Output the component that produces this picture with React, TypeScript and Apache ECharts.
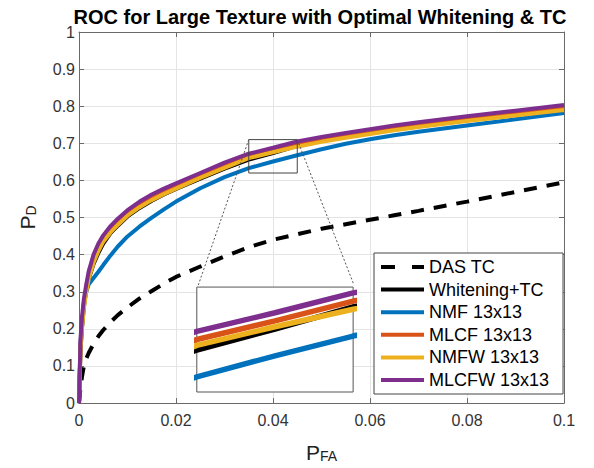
import React, { useEffect, useRef } from "react";
import * as echarts from "echarts";

// ---- data ----
const PFA = [0, 0.0003, 0.0006, 0.001, 0.0015, 0.002, 0.003, 0.004, 0.005, 0.0065, 0.008, 0.01, 0.0125, 0.015, 0.0175, 0.02, 0.025, 0.03, 0.035, 0.04, 0.045, 0.05, 0.055, 0.06, 0.065, 0.07, 0.08, 0.09, 0.1];
const DAS_TC = [0, 0.04, 0.07, 0.1, 0.12, 0.135, 0.16, 0.18, 0.197, 0.218, 0.237, 0.258, 0.282, 0.302, 0.322, 0.34, 0.368, 0.395, 0.42, 0.44, 0.455, 0.47, 0.482, 0.494, 0.506, 0.518, 0.543, 0.569, 0.595];
const WHITENING_TC = [0, 0.14, 0.2, 0.26, 0.305, 0.335, 0.375, 0.405, 0.43, 0.458, 0.478, 0.503, 0.526, 0.545, 0.562, 0.577, 0.605, 0.632, 0.656, 0.674, 0.693, 0.706, 0.717, 0.727, 0.737, 0.746, 0.762, 0.777, 0.792];
const NMF = [0, 0.16, 0.21, 0.27, 0.3, 0.32, 0.337, 0.354, 0.372, 0.398, 0.422, 0.449, 0.476, 0.5, 0.522, 0.543, 0.579, 0.609, 0.633, 0.651, 0.668, 0.684, 0.699, 0.711, 0.722, 0.731, 0.748, 0.765, 0.782];
const MLCF = [0, 0.15, 0.21, 0.265, 0.31, 0.345, 0.39, 0.42, 0.443, 0.47, 0.49, 0.515, 0.537, 0.556, 0.572, 0.586, 0.614, 0.641, 0.665, 0.681, 0.698, 0.711, 0.722, 0.732, 0.742, 0.751, 0.767, 0.783, 0.798];
const NMFW = [0, 0.14, 0.2, 0.255, 0.3, 0.335, 0.378, 0.41, 0.435, 0.46, 0.48, 0.505, 0.528, 0.547, 0.563, 0.578, 0.607, 0.634, 0.66, 0.676, 0.691, 0.704, 0.715, 0.725, 0.735, 0.744, 0.76, 0.775, 0.79];
const MLCFW = [0, 0.17, 0.23, 0.28, 0.32, 0.355, 0.4, 0.43, 0.452, 0.477, 0.497, 0.52, 0.543, 0.562, 0.578, 0.592, 0.62, 0.648, 0.672, 0.688, 0.705, 0.717, 0.728, 0.738, 0.748, 0.757, 0.773, 0.788, 0.803];

const SERIES_NAMES = ["DAS TC", "Whitening+TC", "NMF 13x13", "MLCF 13x13", "NMFW 13x13", "MLCFW 13x13"];
const CURVES = [DAS_TC, WHITENING_TC, NMF, MLCF, NMFW, MLCFW];
const COLORS = ["#000000", "#000000", "#0072BD", "#D95319", "#EDB120", "#7E2F8E"];

const TITLE = "ROC for Large Texture with Optimal Whitening & TC";
const X_RANGE = [0, 0.1];
const X_STEP = 0.02;
const Y_RANGE = [0, 1];
const Y_STEP = 0.1;

// zoom window (data units) and where the inset sits (in main-axes data units)
const ZOOM_PFA = [0.035, 0.045];
const ZOOM_PD = [0.62, 0.71];
const INSET_PFA = [0.0246, 0.0567];
const INSET_PD = [0.0374, 0.318];

const FONT = "'Liberation Sans', Arial, Helvetica, sans-serif";
const MAIN = { left: 77, top: 32, width: 487, height: 374 };

function xPx(v: number) {
  return MAIN.left + ((v - X_RANGE[0]) / (X_RANGE[1] - X_RANGE[0])) * MAIN.width;
}
function yPx(v: number) {
  return MAIN.top + MAIN.height - ((v - Y_RANGE[0]) / (Y_RANGE[1] - Y_RANGE[0])) * MAIN.height;
}

function buildOption() {
  const pts = (ys: number[]) => PFA.map((x, i) => [x, ys[i]]);
  const insetLeft = xPx(INSET_PFA[0]);
  const insetRight = xPx(INSET_PFA[1]);
  const insetTop = yPx(INSET_PD[1]);
  const insetBottom = yPx(INSET_PD[0]);

  const axisLineStyle = { color: "#6a6a6a", width: 1 };
  const labelStyle = { color: "#333", fontSize: 16, fontFamily: FONT };
  const nameRich = {
    p: { fontSize: 21, lineHeight: 21, verticalAlign: "top", color: "#222", fontFamily: FONT },
    s: { fontSize: 14, lineHeight: 14, verticalAlign: "bottom", padding: [16, 0, 0, 0], color: "#222", fontFamily: FONT },
  };

  const mainSeries = SERIES_NAMES.map((name, i) => ({
    type: "line",
    name,
    xAxisIndex: 0,
    yAxisIndex: 0,
    data: pts(CURVES[i]),
    symbol: "none",
    showSymbol: false,
    clip: false,
    silent: true,
    lineStyle: { color: COLORS[i], width: 4, type: i === 0 ? [13, 10] : "solid", cap: "butt" },
    itemStyle: { color: COLORS[i] },
  }));

  const insetSeries = SERIES_NAMES.slice(1).map((name, k) => {
    const i = k + 1;
    return {
      type: "line",
      name: name + " (zoom)",
      xAxisIndex: 2,
      yAxisIndex: 2,
      data: pts(CURVES[i]),
      symbol: "none",
      showSymbol: false,
      clip: true,
      silent: true,
      lineStyle: { color: COLORS[i], width: 5.5 },
      itemStyle: { color: COLORS[i] },
    };
  });

  const zoomBox = {
    type: "line",
    name: "zoom box",
    xAxisIndex: 0,
    yAxisIndex: 0,
    data: [
      [ZOOM_PFA[0], ZOOM_PD[0]],
      [ZOOM_PFA[1], ZOOM_PD[0]],
      [ZOOM_PFA[1], ZOOM_PD[1]],
      [ZOOM_PFA[0], ZOOM_PD[1]],
      [ZOOM_PFA[0], ZOOM_PD[0]],
    ],
    symbol: "none",
    clip: false,
    silent: true,
    lineStyle: { color: "#444", width: 1 },
  };
  const connectors = [0, 1].map((j) => ({
    type: "line",
    name: "connector" + j,
    xAxisIndex: 0,
    yAxisIndex: 0,
    data: [
      [ZOOM_PFA[j], ZOOM_PD[1]],
      [INSET_PFA[j], INSET_PD[1]],
    ],
    symbol: "none",
    clip: false,
    silent: true,
    lineStyle: { color: "#555", width: 1, type: [2, 2] },
  }));

  return {
    animation: false,
    backgroundColor: "#ffffff",
    textStyle: { fontFamily: FONT },
    title: {
      text: TITLE,
      left: 320,
      top: 7,
      padding: 0,
      textAlign: "center",
      textStyle: { fontSize: 20, fontWeight: "bold", color: "#000", fontFamily: FONT },
    },
    legend: {
      data: SERIES_NAMES.map((name, i) => ({
        name,
        itemStyle: { opacity: 0, color: "rgba(0,0,0,0)", borderWidth: 0 },
        lineStyle: { color: COLORS[i], width: 4, type: i === 0 ? [14, 17] : "solid", cap: "butt" },
      })),
      orient: "vertical",
      left: 374,
      top: 253,
      padding: [5, 14, 5, 5],
      itemWidth: 43,
      itemHeight: 12,
      itemGap: 4.6,
      selectedMode: false,
      backgroundColor: "#ffffff",
      borderColor: "#444",
      borderWidth: 1,
      borderRadius: 0,
      itemStyle: { opacity: 0, color: "rgba(0,0,0,0)", borderWidth: 0 },
      textStyle: { fontSize: 18, lineHeight: 18, color: "#000", fontFamily: FONT },
    },
    grid: [
      { left: MAIN.left, top: MAIN.top, width: MAIN.width, height: MAIN.height, containLabel: false },
      {
        left: insetLeft,
        top: insetTop,
        width: insetRight - insetLeft,
        height: insetBottom - insetTop,
        show: true,
        z: 1,
        backgroundColor: "#ffffff",
        borderColor: "#555",
        borderWidth: 1,
      },
    ],
    xAxis: [
      {
        type: "value",
        gridIndex: 0,
        min: X_RANGE[0],
        max: X_RANGE[1],
        interval: X_STEP,
        name: "{p|P}{s|FA}",
        nameLocation: "middle",
        nameGap: 29,
        nameTextStyle: { rich: nameRich },
        axisLine: { show: true, onZero: false, lineStyle: axisLineStyle },
        axisTick: { show: true, inside: true, length: 5, lineStyle: axisLineStyle },
        axisLabel: { ...labelStyle, margin: 9 },
        splitLine: { show: true, lineStyle: { color: "#e4e4e4", width: 1 } },
      },
      {
        type: "value",
        gridIndex: 0,
        position: "top",
        min: X_RANGE[0],
        max: X_RANGE[1],
        interval: X_STEP,
        axisLine: { show: true, onZero: false, lineStyle: axisLineStyle },
        axisTick: { show: true, inside: true, length: 5, lineStyle: axisLineStyle },
        axisLabel: { show: false },
        splitLine: { show: false },
      },
      {
        type: "value",
        gridIndex: 1,
        min: ZOOM_PFA[0],
        max: ZOOM_PFA[1],
        show: false,
      },
    ],
    yAxis: [
      {
        type: "value",
        gridIndex: 0,
        min: Y_RANGE[0],
        max: Y_RANGE[1],
        interval: Y_STEP,
        name: "{p|P}{s|D}",
        nameLocation: "middle",
        nameRotate: 90,
        nameGap: 41,
        nameTextStyle: { rich: nameRich },
        axisLine: { show: true, onZero: false, lineStyle: axisLineStyle },
        axisTick: { show: true, inside: true, length: 5, lineStyle: axisLineStyle },
        axisLabel: { ...labelStyle, margin: 4 },
        splitLine: { show: true, lineStyle: { color: "#e4e4e4", width: 1 } },
      },
      {
        type: "value",
        gridIndex: 0,
        position: "right",
        min: Y_RANGE[0],
        max: Y_RANGE[1],
        interval: Y_STEP,
        axisLine: { show: true, onZero: false, lineStyle: axisLineStyle },
        axisTick: { show: true, inside: true, length: 5, lineStyle: axisLineStyle },
        axisLabel: { show: false },
        splitLine: { show: false },
      },
      {
        type: "value",
        gridIndex: 1,
        min: ZOOM_PD[0],
        max: ZOOM_PD[1],
        show: false,
      },
    ],
    series: [...mainSeries, zoomBox, ...connectors, ...insetSeries],
  };
}

export default function App() {
  const ref = useRef<HTMLDivElement>(null);
  useEffect(() => {
    if (!ref.current) return;
    const chart = echarts.init(ref.current, null, { renderer: "svg" });
    chart.setOption(buildOption() as any);
    return () => chart.dispose();
  }, []);
  return (
    <div
      ref={ref}
      style={{ position: "fixed", left: 0, top: 0, width: 594, height: 468, background: "#fff" }}
    />
  );
}
